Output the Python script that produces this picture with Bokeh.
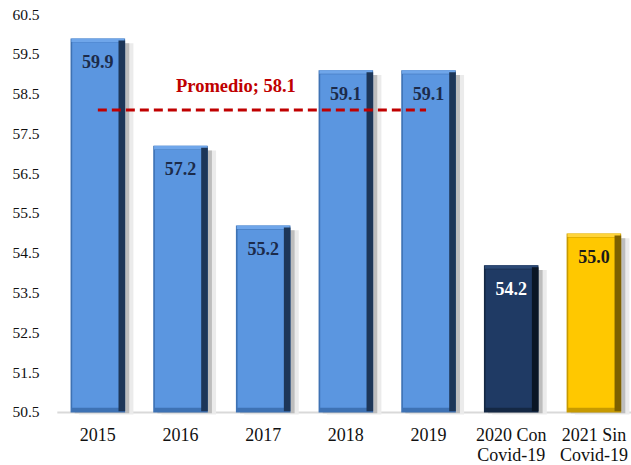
from bokeh.plotting import figure
from bokeh.models import FixedTicker, Range1d, ColumnDataSource
from bokeh.core.properties import value
from bokeh.embed import file_html
from bokeh.resources import INLINE

# ---- data ----
categories = ["2015", "2016", "2017", "2018", "2019", "2020 Con\nCovid-19", "2021 Sin\nCovid-19"]
values = [59.9, 57.2, 55.2, 59.1, 59.1, 54.2, 55.0]
y_ticks = [50.5, 51.5, 52.5, 53.5, 54.5, 55.5, 56.5, 57.5, 58.5, 59.5, 60.5]
avg_years = ["2015", "2016", "2017", "2018", "2019"]

# ---- styles ----
face = ["#5b96e0"] * 5 + ["#1f3a64", "#ffc800"]
outer = ["#3e72b4"] * 5 + ["#142844", "#c79a00"]
top_hl = ["#6fa6ea"] * 5 + ["#2c4a76", "#ffd43a"]
edge = ["#1d3658"] * 5 + ["#0a1524", "#7d6000"]
lab_col = ["#1c2b4a"] * 5 + ["#ffffff", "#1a1a1a"]
SERIF = value("Liberation Serif")

base = y_ticks[0]
n = len(categories)
xs = list(range(n))
W = 0.66

p = figure(width=631, height=465, output_backend="svg", toolbar_location=None,
           x_range=Range1d(-0.5, 6.455), y_range=Range1d(49.168, 60.852),
           min_border_left=56, min_border_right=0, min_border_top=0, min_border_bottom=0,
           x_axis_type=None)
p.outline_line_color = None
p.grid.visible = False
p.background_fill_color = "white"

ya = p.yaxis[0]
ya.ticker = FixedTicker(ticks=y_ticks)
ya.axis_line_color = None
ya.major_tick_line_color = None
ya.minor_tick_line_color = None
ya.major_label_standoff = 11
ya.major_label_text_font = "Liberation Serif"
ya.major_label_text_font_size = "15.5px"
ya.major_label_text_color = "#111111"

src = ColumnDataSource(dict(
    x=xs, v=values, face=face, outer=outer, top_hl=top_hl, edge=edge, lab_col=lab_col,
    xs1=[x + 0.10 for x in xs], xs2=[x + 0.05 for x in xs],
    shtop=[v - 0.12 for v in values],
    xin=[x - 0.015 for x in xs], intop=[v - 0.10 for v in values],
    xedge=[x + W / 2 - 0.04 for x in xs], edtop=[v - 0.05 for v in values],
    hlbot=[v - 0.09 for v in values],
    laby=[v - 0.58 for v in values],
    lab=[f"{v:.1f}" for v in values],
))

# baseline
p.segment(x0=-0.49, x1=6.455, y0=base, y1=base, line_color="#d9d9d9", line_width=2)

# shadows
p.vbar(x="xs1", width=W, top="shtop", bottom=base - 0.05, source=src,
       fill_color="#ebebeb", line_color=None)
p.vbar(x="xs2", width=W, top="shtop", bottom=base - 0.02, source=src,
       fill_color="#bdbdbd", line_color=None)

# bars with bevel
p.vbar(x="x", width=W, top="v", bottom=base, source=src, fill_color="outer", line_color=None)
p.vbar(x="x", width=W - 0.02, top="v", bottom="hlbot", source=src, fill_color="top_hl", line_color=None)
p.vbar(x="xin", width=W - 0.07, top="intop", bottom=base + 0.12, source=src,
       fill_color="face", line_color=None)
p.vbar(x="xedge", width=0.08, top="edtop", bottom=base + 0.03, source=src,
       fill_color="edge", line_color=None)

# value labels
p.text(x="x", y="laby", text="lab", source=src, text_color="lab_col",
       text_font=SERIF, text_font_size="18px", text_font_style="bold",
       text_align="center", text_baseline="middle")

# average line
avg_vals = [values[categories.index(c)] for c in avg_years]
promedio = round(sum(avg_vals) / len(avg_vals), 1)
x0 = categories.index(avg_years[0])
x1 = categories.index(avg_years[-1])
p.segment(x0=x0, x1=x1 - 0.03, y0=promedio, y1=promedio, line_color="#c00000",
          line_width=3, line_dash="9 5")
p.text(x=[1.67], y=[promedio + 0.6], text=[f"Promedio; {promedio}"], text_color="#c00000",
       text_font=SERIF, text_font_size="18.5px", text_font_style="bold",
       text_align="center", text_baseline="middle")

# category labels
line1 = [c.split("\n")[0] for c in categories]
line2 = [c.split("\n")[1] if "\n" in c else "" for c in categories]
p.text(x=xs, y=[base - 0.56] * n, text=line1, text_color="#111111", text_font=SERIF,
       text_font_size="18px", text_align="center", text_baseline="middle")
p.text(x=xs, y=[base - 1.06] * n, text=line2, text_color="#111111", text_font=SERIF,
       text_font_size="18px", text_align="center", text_baseline="middle")

open("out.html", "w").write(file_html(p, INLINE))
